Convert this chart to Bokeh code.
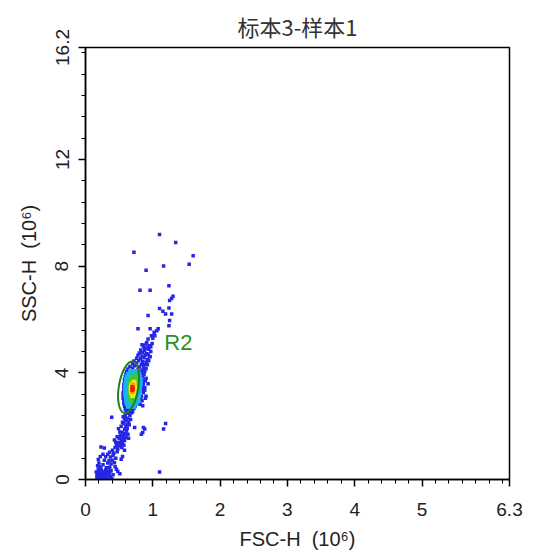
from bokeh.plotting import figure
from bokeh.models import FixedTicker, Range1d
from bokeh.core.properties import value
from bokeh.embed import file_html
from bokeh.resources import INLINE

# ---- data (FSC-H, SSC-H in units of 10^6) ----
title_text = "标本3-样本1"
x_label = "FSC-H\u00a0\u00a0(10\u2076)"
y_label = "SSC-H\u00a0\u00a0(10\u2076)"
x_ticks = [0, 1, 2, 3, 4, 5, 6.3]
y_ticks = [0, 4, 8, 12, 16.2]
x_max = 6.3
y_max = 16.2

# sparse / low-density events (blue)
blue_pts = [
    # debris cluster near origin
    (0.17,0.05),(0.19,0.10),(0.20,0.03),(0.22,0.14),(0.24,0.06),(0.25,0.18),(0.27,0.09),(0.29,0.04),
    (0.31,0.13),(0.33,0.06),(0.35,0.20),(0.37,0.10),(0.39,0.04),(0.18,0.22),(0.20,0.30),(0.22,0.24),
    (0.24,0.33),(0.26,0.27),(0.28,0.20),(0.30,0.28),(0.32,0.22),(0.34,0.32),(0.36,0.28),(0.19,0.38),
    (0.17,0.15),(0.21,0.07),(0.26,0.03),(0.28,0.14),(0.38,0.33),(0.41,0.18),(0.16,0.28),(0.23,0.42),
    (0.30,0.36),
    (0.18,0.52),(0.20,0.62),(0.19,0.75),(0.22,0.86),(0.21,0.48),(0.26,0.55),(0.36,0.46),(0.38,0.58),
    (0.40,0.72),(0.43,0.63),(0.37,0.84),(0.44,0.48),(0.46,0.38),(0.48,0.30),(0.53,0.76),(0.55,0.86),
    (0.51,0.22),(0.33,0.62),(0.31,0.44),(0.41,0.90),(0.45,0.80),(0.35,0.70),(0.28,0.72),(0.26,0.95),
    (0.30,0.85),(0.33,0.95),
    # lower tail
    (0.28,1.18),(0.23,1.22),(0.47,1.04),(0.48,1.14),(0.50,1.26),(0.52,1.32),(0.53,1.42),(0.55,1.36),
    (0.54,1.52),(0.56,1.56),(0.58,1.46),(0.57,1.64),(0.59,1.72),(0.60,1.58),(0.61,1.82),(0.52,1.66),
    (0.55,1.76),(0.58,1.88),(0.62,1.92),(0.60,1.98),(0.63,1.70),(0.50,1.54),(0.45,1.40),(0.73,1.95),
    (0.86,1.95),(0.88,1.89),(0.83,1.70),(0.85,1.76),(1.19,2.10),(1.16,1.89),(0.39,2.33),(0.64,1.55),
    (0.57,1.28),(0.49,1.38),(0.36,1.02),(0.40,1.10),(0.42,0.98),(0.44,1.20),(0.46,1.28),(0.43,1.48),
    (0.47,1.60),(0.51,1.78),(0.49,1.90),(0.53,2.00),(0.54,1.20),(0.58,1.10),
    (0.57,2.10),(0.60,2.20),(0.62,2.30),(0.59,2.40),(0.63,2.48),(0.61,2.56),(0.64,2.16),(0.66,2.40),
    (0.58,2.28),(0.65,2.05),(0.67,2.25),(0.56,2.35),(0.60,2.62),(0.55,2.15),(0.62,2.05),(0.68,2.50),
    (0.85,2.77),(0.90,3.12),(0.89,3.05),(0.93,3.59),(0.88,3.35),
    # main population outer ring
    (0.84,5.05),(0.90,5.08),(0.95,5.02),(0.87,4.96),(0.92,4.93),(0.97,4.98),(0.82,4.86),(0.88,4.84),
    (0.94,4.88),(0.80,4.74),(0.85,4.77),(0.91,4.72),(0.78,4.66),(0.84,4.63),(0.89,4.67),(0.95,4.61),
    (0.76,4.55),(0.82,4.53),(0.87,4.57),(0.92,4.50),(0.72,4.44),(0.79,4.46),(0.85,4.42),(0.90,4.40),
    (0.70,4.34),(0.76,4.37),(0.83,4.32),(0.88,4.30),(0.66,4.24),(0.73,4.27),(0.80,4.22),(0.86,4.20),
    (0.63,4.14),(0.70,4.17),(0.78,4.12),(0.84,4.10),(0.61,4.05),(0.67,4.07),(0.75,4.03),(0.82,4.02),
    (0.88,4.06),(0.60,3.95),(0.65,3.97),(0.79,3.93),(0.85,3.96),(0.59,3.85),(0.63,3.87),(0.78,3.83),
    (0.83,3.86),(0.58,3.75),(0.62,3.77),(0.77,3.73),(0.82,3.76),(0.87,3.72),(0.58,3.65),(0.61,3.67),
    (0.77,3.63),(0.81,3.66),(0.57,3.55),(0.61,3.57),(0.76,3.53),(0.80,3.56),(0.85,3.52),(0.57,3.45),
    (0.60,3.47),(0.76,3.43),(0.80,3.46),(0.57,3.35),(0.60,3.37),(0.76,3.33),(0.79,3.36),(0.84,3.32),
    (0.56,3.25),(0.60,3.27),(0.75,3.23),(0.79,3.26),(0.56,3.15),(0.60,3.17),(0.75,3.13),(0.78,3.16),
    (0.83,3.12),(0.56,3.05),(0.60,3.07),(0.74,3.03),(0.78,3.06),(0.57,2.95),(0.61,2.97),(0.73,2.93),
    (0.77,2.96),(0.57,2.85),(0.62,2.87),(0.72,2.83),(0.76,2.86),(0.81,2.82),(0.58,2.75),(0.63,2.77),
    (0.70,2.73),(0.74,2.76),(0.59,2.65),(0.64,2.67),(0.69,2.63),(0.72,2.66),(0.61,2.55),(0.66,2.57),
    (0.70,2.53),(0.97,4.80),(0.93,4.70),(0.99,5.10),
    (0.86,3.60),(0.88,3.45),(0.90,3.80),(0.86,3.25),(0.87,3.95),(0.90,4.15),(0.92,4.30),(0.94,4.45),
    (0.96,4.60),(0.83,3.40),(0.82,3.05),(0.84,2.95),(0.89,3.70),(0.85,3.85),
    # high-SSC outliers
    (1.10,9.19),(1.34,8.89),(0.72,8.52),(1.60,8.39),(1.54,8.07),(1.16,8.01),(0.90,7.85),(1.24,7.27),
    (0.81,7.10),(0.96,7.10),(1.30,6.87),(1.28,6.79),(1.25,6.71),(1.10,6.41),(1.24,6.43),(1.15,6.31),
    (1.19,6.21),(1.28,6.21),(0.93,6.15),(1.25,5.96),(1.24,5.77),(0.78,5.65),(0.96,5.65),(1.08,5.65),
    (1.02,5.52),(0.98,5.39),(0.93,5.27),(1.06,5.58),(1.03,5.39),(0.91,5.14),(0.86,5.02),(0.93,4.95),
    (1.00,5.30),(1.10,0.28),
]
cyan_pts = [
    (0.67,4.05),(0.72,4.05),(0.77,4.05),(0.64,3.95),(0.69,3.95),(0.74,3.95),(0.79,3.95),
    (0.62,3.85),(0.67,3.85),(0.77,3.85),(0.80,3.85),(0.61,3.75),(0.66,3.75),(0.78,3.75),(0.81,3.75),
    (0.61,3.65),(0.78,3.65),(0.81,3.65),(0.60,3.55),(0.64,3.55),(0.78,3.55),(0.81,3.55),
    (0.60,3.45),(0.64,3.45),(0.77,3.45),(0.80,3.45),(0.60,3.35),(0.64,3.35),(0.77,3.35),(0.80,3.35),
    (0.60,3.25),(0.64,3.25),(0.76,3.25),(0.79,3.25),(0.60,3.15),(0.64,3.15),(0.76,3.15),(0.79,3.15),
    (0.61,3.05),(0.65,3.05),(0.75,3.05),(0.78,3.05),(0.61,2.95),(0.66,2.95),(0.74,2.95),(0.77,2.95),
    (0.62,2.85),(0.67,2.85),(0.72,2.85),(0.75,2.85),(0.64,2.75),(0.69,2.75),(0.72,2.75),
]
green_pts = [
    (0.70,3.85),(0.74,3.85),(0.68,3.75),(0.72,3.75),(0.76,3.75),(0.66,3.65),(0.70,3.65),(0.75,3.65),
    (0.66,3.55),(0.75,3.55),(0.66,3.45),(0.75,3.45),(0.66,3.35),(0.74,3.35),(0.66,3.25),(0.74,3.25),
    (0.665,3.15),(0.73,3.15),(0.67,3.05),(0.71,3.05),(0.69,2.95),
]
yellow_pts = [
    (0.72,3.65),(0.69,3.55),(0.72,3.55),(0.68,3.45),(0.725,3.45),(0.68,3.35),(0.72,3.35),
    (0.685,3.25),(0.715,3.25),(0.70,3.15),
]
orange_pts = [(0.705,3.55),(0.695,3.28)]
red_pts = [(0.695,3.47),(0.705,3.40),(0.695,3.36)]

# gate R2 (ellipse)
gate_name = "R2"
gate_cx, gate_cy = 0.64, 3.46
gate_w, gate_h = 0.29, 1.96
gate_angle = -0.16
gate_label_x, gate_label_y = 1.17, 5.12

FONT = "Liberation Sans"

p = figure(output_backend="svg", toolbar_location=None,
           frame_width=424, frame_height=432,
           min_border_left=85, min_border_right=25, min_border_top=47, min_border_bottom=74,
           x_range=Range1d(0, x_max), y_range=Range1d(0, y_max),
           title=title_text)
p.background_fill_color = "white"
p.border_fill_color = "white"
p.outline_line_color = "black"
p.outline_line_width = 1.5
p.xgrid.visible = False
p.ygrid.visible = False

p.title.align = "center"
p.title.text_font = "Noto Sans CJK SC"
p.title.text_font_size = "22px"
p.title.text_font_style = "normal"
p.title.text_color = "#333333"
p.title.standoff = 12

x_minor = [round(0.2 * i, 1) for i in range(1, 32) if round(0.2 * i, 1) not in (1.0, 2.0, 3.0, 4.0, 5.0)]
y_minor = [round(0.8 * i, 1) for i in range(1, 21) if round(0.8 * i, 1) not in (4.0, 8.0, 12.0)]
p.xaxis.ticker = FixedTicker(ticks=x_ticks, minor_ticks=x_minor)
p.yaxis.ticker = FixedTicker(ticks=y_ticks, minor_ticks=y_minor)
p.xaxis.major_label_overrides = {6.3: "6.3"}
p.yaxis.major_label_overrides = {16.2: "16.2"}

for ax in (p.xaxis[0], p.yaxis[0]):
    ax.axis_line_width = 1.5
    ax.major_tick_line_width = 1.5
    ax.minor_tick_line_width = 1
    ax.major_tick_in = 0
    ax.major_tick_out = 7
    ax.minor_tick_in = 0
    ax.minor_tick_out = 4
    ax.major_label_text_font = FONT
    ax.major_label_text_font_size = "19px"
    ax.major_label_text_color = "#222222"
    ax.axis_label_text_font = FONT
    ax.axis_label_text_font_size = "20px"
    ax.axis_label_text_font_style = "normal"
    ax.axis_label_text_color = "#222222"

p.xaxis.axis_label = x_label
p.yaxis.axis_label = y_label
p.xaxis.major_label_standoff = 16
p.xaxis.axis_label_standoff = 9
p.yaxis.major_label_orientation = "vertical"
p.yaxis.major_label_standoff = 10
p.yaxis.axis_label_standoff = 13

def xy(pts):
    return [a for a, _ in pts], [b for _, b in pts]

for pts, col, sz in [(blue_pts, "#2626e6", 3.5), (cyan_pts, "#19b4f0", 5), (green_pts, "#3cc83c", 5),
                     (yellow_pts, "#f0e614", 5), (orange_pts, "#ff9600", 4), (red_pts, "#f01e0a", 4)]:
    xs, ys = xy(pts)
    p.scatter(xs, ys, marker="square", size=sz, fill_color=col, line_color=None)

p.ellipse(x=[gate_cx], y=[gate_cy], width=[gate_w], height=[gate_h], angle=[gate_angle],
          fill_color=None, line_color="#1f7f1f", line_width=2)
p.text(x=[gate_label_x], y=[gate_label_y], text=[gate_name], text_font=value(FONT),
       text_font_size="22px", text_color="#2a8f2a", text_baseline="alphabetic", text_align="left")

open("out.html", "w").write(file_html(p, INLINE))
